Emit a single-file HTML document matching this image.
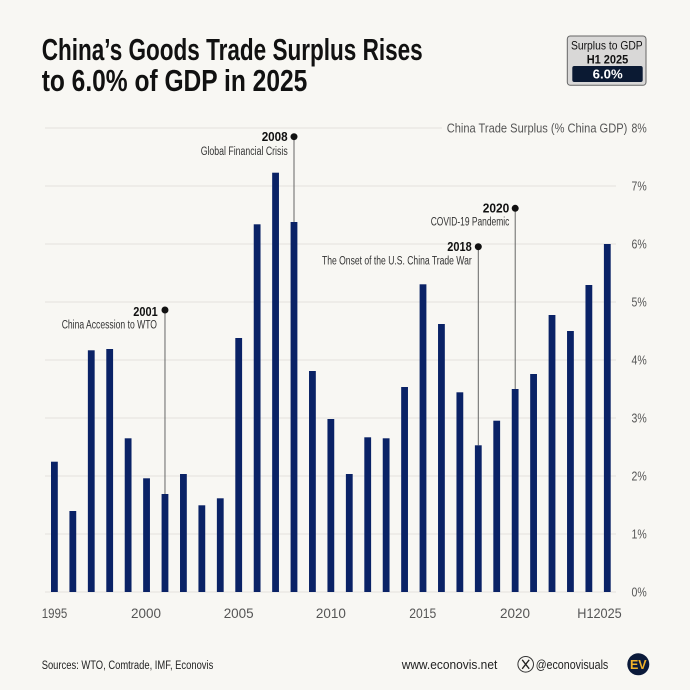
<!DOCTYPE html>
<html>
<head>
<meta charset="utf-8">
<style>
  html,body{margin:0;padding:0;background:#f8f7f3;}
  svg{display:block;}
  text{font-family:"Liberation Sans",sans-serif;}
</style>
</head>
<body>
<svg width="690" height="690" viewBox="0 0 690 690" xmlns="http://www.w3.org/2000/svg">
  <rect x="0" y="0" width="690" height="690" fill="#f8f7f3"/>

  <!-- Title -->
  <text x="41.7" y="60" font-size="31" font-weight="bold" fill="#111" textLength="381" lengthAdjust="spacingAndGlyphs">China’s Goods Trade Surplus Rises</text>
  <text x="41.7" y="91" font-size="31" font-weight="bold" fill="#111" textLength="265.6" lengthAdjust="spacingAndGlyphs">to 6.0% of GDP in 2025</text>

  <!-- Badge -->
  <rect x="567.3" y="36" width="78.7" height="49.3" rx="3" fill="#d9d8d7" stroke="#666" stroke-width="1"/>
  <text x="571" y="49.5" font-size="12" fill="#111" textLength="71.7" lengthAdjust="spacingAndGlyphs">Surplus to GDP</text>
  <text x="586.7" y="63.5" font-size="12" font-weight="bold" fill="#111" textLength="41.6" lengthAdjust="spacingAndGlyphs">H1 2025</text>
  <rect x="572.3" y="66" width="70.4" height="16" rx="2" fill="#0b1a33"/>
  <text x="592.7" y="78.5" font-size="12.5" font-weight="bold" fill="#fff" textLength="30" lengthAdjust="spacingAndGlyphs">6.0%</text>

  <!-- Gridlines -->
  <g stroke="#e3e2de" stroke-width="1">
    <line x1="45" y1="128" x2="442" y2="128"/>
    <line x1="45" y1="186" x2="616" y2="186"/>
    <line x1="45" y1="244" x2="616" y2="244"/>
    <line x1="45" y1="302" x2="616" y2="302"/>
    <line x1="45" y1="360" x2="616" y2="360"/>
    <line x1="45" y1="418" x2="616" y2="418"/>
    <line x1="45" y1="476" x2="616" y2="476"/>
    <line x1="45" y1="534" x2="616" y2="534"/>
    <line x1="45" y1="592" x2="616" y2="592"/>
  </g>

  <!-- Y axis labels -->
  <g font-size="13" fill="#555">
    <text x="446.7" y="132.5" textLength="180.6" lengthAdjust="spacingAndGlyphs">China Trade Surplus (% China GDP)</text>
    <text x="631.5" y="132.5" textLength="15.2" lengthAdjust="spacingAndGlyphs">8%</text>
    <text x="631.5" y="190.5" textLength="15.2" lengthAdjust="spacingAndGlyphs">7%</text>
    <text x="631.5" y="248.5" textLength="15.2" lengthAdjust="spacingAndGlyphs">6%</text>
    <text x="631.5" y="306.5" textLength="15.2" lengthAdjust="spacingAndGlyphs">5%</text>
    <text x="631.5" y="364.5" textLength="15.2" lengthAdjust="spacingAndGlyphs">4%</text>
    <text x="631.5" y="422.5" textLength="15.2" lengthAdjust="spacingAndGlyphs">3%</text>
    <text x="631.5" y="480.5" textLength="15.2" lengthAdjust="spacingAndGlyphs">2%</text>
    <text x="631.5" y="538.5" textLength="15.2" lengthAdjust="spacingAndGlyphs">1%</text>
    <text x="631.5" y="596.5" textLength="15.2" lengthAdjust="spacingAndGlyphs">0%</text>
  </g>

  <!-- Annotation lines (behind bars) -->
  <g stroke="#666" stroke-width="1">
    <line x1="164.98" y1="310" x2="164.98" y2="494"/>
    <line x1="294.0" y1="136.7" x2="294.0" y2="222"/>
    <line x1="478.3" y1="246.7" x2="478.3" y2="445.3"/>
    <line x1="515.2" y1="208.3" x2="515.2" y2="389"/>
  </g>

  <!-- Bars -->
  <g fill="#0a2266">
    <rect x="51.0" y="461.7" width="6.8" height="130.3"/>
    <rect x="69.43" y="511" width="6.8" height="81"/>
    <rect x="87.86" y="350.3" width="6.8" height="241.7"/>
    <rect x="106.29" y="349" width="6.8" height="243"/>
    <rect x="124.72" y="438.3" width="6.8" height="153.7"/>
    <rect x="143.15" y="478.3" width="6.8" height="113.7"/>
    <rect x="161.58" y="494" width="6.8" height="98"/>
    <rect x="180.01" y="474" width="6.8" height="118"/>
    <rect x="198.44" y="505.3" width="6.8" height="86.7"/>
    <rect x="216.87" y="498.3" width="6.8" height="93.7"/>
    <rect x="235.3" y="338" width="6.8" height="254"/>
    <rect x="253.73" y="224.3" width="6.8" height="367.7"/>
    <rect x="272.16" y="172.7" width="6.8" height="419.3"/>
    <rect x="290.59" y="222" width="6.8" height="370"/>
    <rect x="309.02" y="371" width="6.8" height="221"/>
    <rect x="327.45" y="419" width="6.8" height="173"/>
    <rect x="345.88" y="474" width="6.8" height="118"/>
    <rect x="364.31" y="437.3" width="6.8" height="154.7"/>
    <rect x="382.74" y="438.3" width="6.8" height="153.7"/>
    <rect x="401.17" y="387" width="6.8" height="205"/>
    <rect x="419.6" y="284.3" width="6.8" height="307.7"/>
    <rect x="438.03" y="324" width="6.8" height="268"/>
    <rect x="456.46" y="392.3" width="6.8" height="199.7"/>
    <rect x="474.89" y="445.3" width="6.8" height="146.7"/>
    <rect x="493.32" y="420.7" width="6.8" height="171.3"/>
    <rect x="511.75" y="389" width="6.8" height="203"/>
    <rect x="530.18" y="374" width="6.8" height="218"/>
    <rect x="548.61" y="315" width="6.8" height="277"/>
    <rect x="567.04" y="331" width="6.8" height="261"/>
    <rect x="585.47" y="285" width="6.8" height="307"/>
    <rect x="603.9" y="244" width="6.8" height="348"/>
  </g>

  <!-- Annotation dots -->
  <g fill="#111">
    <circle cx="164.98" cy="310" r="3.5"/>
    <circle cx="294.0" cy="136.7" r="3.5"/>
    <circle cx="478.3" cy="246.7" r="3.5"/>
    <circle cx="515.2" cy="208.3" r="3.5"/>
  </g>

  <!-- Annotation texts -->
  <g fill="#111">
    <text x="261.7" y="141.2" font-size="12.5" font-weight="bold" textLength="26" lengthAdjust="spacingAndGlyphs">2008</text>
    <text x="200.7" y="155" font-size="11.5" fill="#333" textLength="87" lengthAdjust="spacingAndGlyphs">Global Financial Crisis</text>

    <text x="133.3" y="316" font-size="12.5" font-weight="bold" textLength="24.4" lengthAdjust="spacingAndGlyphs">2001</text>
    <text x="61.7" y="328.5" font-size="11.5" fill="#333" textLength="95.3" lengthAdjust="spacingAndGlyphs">China Accession to WTO</text>

    <text x="482.7" y="212.7" font-size="12.5" font-weight="bold" textLength="26.6" lengthAdjust="spacingAndGlyphs">2020</text>
    <text x="430.7" y="225.5" font-size="11.5" fill="#333" textLength="78.6" lengthAdjust="spacingAndGlyphs">COVID-19 Pandemic</text>

    <text x="447.3" y="251.2" font-size="12.5" font-weight="bold" textLength="24.4" lengthAdjust="spacingAndGlyphs">2018</text>
    <text x="322" y="264.5" font-size="11.5" fill="#333" textLength="149.7" lengthAdjust="spacingAndGlyphs">The Onset of the U.S. China Trade War</text>
  </g>

  <!-- X axis labels -->
  <g font-size="13.5" fill="#555">
    <text x="41.7" y="618" textLength="25.6" lengthAdjust="spacingAndGlyphs">1995</text>
    <text x="131" y="618" textLength="30" lengthAdjust="spacingAndGlyphs">2000</text>
    <text x="223.7" y="618" textLength="30" lengthAdjust="spacingAndGlyphs">2005</text>
    <text x="315.9" y="618" textLength="30" lengthAdjust="spacingAndGlyphs">2010</text>
    <text x="409.3" y="618" textLength="27" lengthAdjust="spacingAndGlyphs">2015</text>
    <text x="500" y="618" textLength="30" lengthAdjust="spacingAndGlyphs">2020</text>
    <text x="577.3" y="618" textLength="44.4" lengthAdjust="spacingAndGlyphs">H12025</text>
  </g>

  <!-- Footer -->
  <text x="41.7" y="669" font-size="11.5" fill="#222" textLength="171.6" lengthAdjust="spacingAndGlyphs">Sources: WTO, Comtrade, IMF, Econovis</text>
  <text x="401.7" y="669" font-size="12.5" fill="#222" textLength="95.6" lengthAdjust="spacingAndGlyphs">www.econovis.net</text>
  <circle cx="525.7" cy="664.3" r="7.8" fill="none" stroke="#333" stroke-width="1"/>
  <g stroke="#222" stroke-width="1.3">
    <line x1="522.2" y1="659.8" x2="529.2" y2="668.8"/>
    <line x1="529.2" y1="659.8" x2="522.2" y2="668.8"/>
  </g>
  <text x="535.7" y="669" font-size="12.5" fill="#222" textLength="72.6" lengthAdjust="spacingAndGlyphs">@econovisuals</text>
  <circle cx="638.3" cy="664.3" r="11" fill="#0b1a3a"/>
  <text x="638.3" y="669" font-size="12.5" font-weight="bold" fill="#f0b22a" text-anchor="middle">EV</text>
</svg>
</body>
</html>
